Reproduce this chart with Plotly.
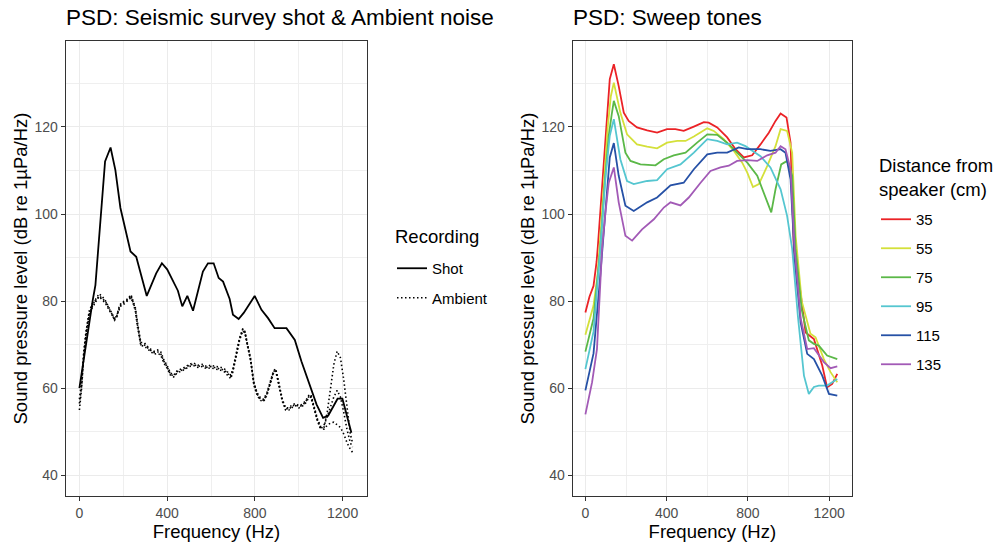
import plotly.graph_objects as go

# ---- Left panel: seismic shot vs ambient noise ----
shot_freq = [0, 20, 40, 61, 73, 99, 117, 142, 164, 187, 210, 233, 259, 307, 350, 376, 400, 426,
             449, 469, 492, 518, 556, 563, 586, 612, 635, 655, 685, 700, 726, 749, 799, 830,
             860, 890, 944, 982, 1012, 1058, 1081, 1111, 1134, 1177, 1199, 1240]
shot_db = [60, 67, 74, 80.3, 83.7, 99.4, 112.1, 115.3, 110.1, 101.4, 96, 91.4, 90.2, 81.2, 86.4,
           88.7, 87.3, 84.5, 82.4, 78.8, 81.2, 77.8, 84.9, 86.8, 88.7, 88.7, 85.3, 84.5, 80.5,
           76.9, 75.9, 77.3, 81.2, 78, 76.1, 73.8, 73.8, 71.1, 66.2, 59.7, 56.3, 53.2, 53.7,
           57.6, 57.6, 49.8]

amb_freq = [0, 10, 20, 30, 45, 60, 75, 90, 105, 120, 135, 150, 160, 170, 180, 190, 205, 220,
            235, 245, 255, 265, 280, 295, 310, 325, 340, 355, 370, 385, 400, 415, 430, 445,
            460, 480, 500, 520, 540, 560, 580, 600, 620, 640, 660, 680, 690, 700, 715, 730,
            745, 755, 765, 780, 795, 810, 825, 840, 855, 870, 885, 895, 910, 925, 940, 955,
            970, 985, 1000, 1015, 1030, 1045, 1055, 1070, 1085, 1100, 1115, 1130, 1145, 1160,
            1175, 1190, 1205, 1220, 1235, 1245]
amb_1 = [55, 60, 67.5, 72, 77, 79, 80.5, 81.7, 81, 80, 78.5, 77, 76, 76.5, 78.5, 79.6, 80, 80.5,
         81.5, 80, 78.5, 75, 70.5, 70.5, 69.6, 69, 68.5, 68.8, 68.5, 66.5, 65.2, 63.5, 63, 64,
         64.3, 64.8, 65.5, 65.8, 65.3, 65.5, 65, 65.3, 65, 64.9, 64.5, 63.5, 63, 64.5, 68, 71.5,
         73.7, 73, 70.5, 67, 61.5, 59, 57.8, 57.5, 59, 61.5, 64, 64.5, 61, 57.5, 55.5, 55.5,
         56.2, 56.5, 56, 56.3, 57, 58.3, 58.6, 55.5, 53, 51.2, 51, 54.5, 59.5, 65.5,
         68.5, 67, 62, 55.5, 49.5, 47.5]
amb_2 = [57.5, 61.5, 68.5, 73, 77.8, 79.5, 80.2, 81, 80.3, 79.4, 78, 76.6, 75.8, 76.8, 78, 79,
         79.4, 80, 80.8, 79.5, 77.8, 74, 69.8, 69.7, 69, 68.5, 67.8, 68, 67.7, 65.8, 64.6, 63,
         62.6, 63.5, 63.8, 64.3, 65, 65.2, 64.8, 65, 64.5, 64.7, 64.4, 64.2, 63.8, 62.8, 62.2,
         63.8, 67.4, 71, 73.2, 72.5, 70, 66.4, 60.8, 58.4, 57.2, 57, 58.4, 61, 63.5, 64, 60.4,
         57, 55, 55, 55.6, 56, 55.5, 55.8, 56.5, 57.7, 58, 55, 52.5, 50.6, 51.5, 53.5, 56, 58,
         59.5, 58, 54.5, 50.5, 47.5, 46.5]
amb_3 = [56.5, 60.5, 67.8, 72.5, 77.3, 78.6, 79.8, 81.2, 80.6, 79.8, 78.3, 76.9, 75.6, 76.2, 78.2,
         79.3, 79.8, 80.3, 81.2, 79.8, 78.2, 74.5, 70, 70, 69.3, 68.7, 68.2, 68.4, 68, 66.2, 64.9,
         63.2, 62.8, 63.8, 64, 64.5, 65.3, 65.5, 65, 65.2, 64.8, 65, 64.7, 64.5, 64.2, 63.2, 62.6,
         64.2, 67.7, 71.2, 73.5, 72.8, 70.2, 66.7, 61.2, 58.7, 57.5, 57.2, 58.7, 61.2, 63.8, 64.3,
         60.7, 57.2, 55.3, 55.2, 55.9, 56.2, 55.8, 56, 56.8, 58, 58.3, 55.2, 52.7, 50.8, 50.6,
         51.5, 52, 52.2, 51.5, 51, 49.5, 47.5, 46, 45.3]

# ---- Right panel: sweep tones by distance from speaker ----
distances = ["35", "55", "75", "95", "115", "135"]
colors = ["#EB2226", "#D4E03A", "#5BB848", "#55C6D0", "#2651A6", "#A25AB6"]

f35 = [0, 20, 40, 55, 62, 80, 100, 120, 140, 164, 189, 213, 254, 304, 353, 402, 443, 484, 534,
       583, 607, 649, 698, 739, 780, 821, 862, 903, 936, 961, 990, 1010, 1026, 1059, 1084,
       1125, 1166, 1190, 1215, 1240]
db35 = [77.4, 81, 83.5, 89, 93, 105, 119, 131, 134.4, 129.4, 123.3, 121.4, 119.9, 119.2, 118.7,
        119.5, 119.5, 119.1, 120.1, 121.1, 121, 119.9, 117.6, 114.9, 113, 113.5, 116, 118.7,
        121.4, 123.1, 122.2, 116.4, 92, 82, 72.8, 71.3, 65.2, 60.2, 61, 63.3]
f55 = [0, 40, 60, 70, 90, 110, 125, 140, 172, 205, 254, 304, 353, 402, 452, 493, 534, 600, 632,
       681, 731, 772, 797, 825, 854, 895, 936, 961, 993, 1018, 1035, 1065, 1108, 1133, 1174,
       1207, 1240]
db55 = [72.3, 79, 86, 92, 106, 120, 127, 130.2, 123.3, 118.3, 116, 115.5, 115.1, 116.4, 116.8,
        116.8, 117.8, 119.7, 119.1, 117.2, 114.5, 111.8, 109.5, 106.2, 106.9, 111, 115.6, 119.5,
        119.1, 114.1, 95, 80, 72.5, 71.7, 66.7, 63.7, 61.4]
f75 = [0, 40, 65, 75, 95, 115, 130, 140, 164, 197, 222, 271, 345, 386, 435, 493, 550, 600, 649,
       698, 747, 797, 846, 878, 915, 936, 964, 993, 1018, 1035, 1065, 1100, 1125, 1149, 1190,
       1240]
db75 = [68.4, 76, 88, 93, 107, 118, 123, 126, 122.5, 114.1, 112.2, 111.4, 111.2, 112.6, 113.5,
        114.1, 116.4, 118.3, 118.2, 116.4, 114.1, 111.8, 108.8, 104.9, 100.4, 105.7, 111.4,
        112.2, 108.8, 92, 78, 71, 70.2, 69.8, 67.5, 66.7]
f95 = [0, 40, 70, 80, 100, 120, 140, 172, 205, 238, 304, 353, 402, 468, 534, 600, 649, 698, 747,
       788, 862, 911, 961, 993, 1018, 1046, 1076, 1100, 1125, 1149, 1190, 1240]
db95 = [64.4, 73, 90, 96, 109, 118, 121.8, 112.6, 107.6, 106.9, 107.6, 107.8, 110.3, 111.4,
        114.1, 117.2, 116.8, 116, 116.4, 115.6, 113.3, 110.7, 105.7, 99.6, 92, 76.6, 62.9,
        58.7, 60.3, 60.6, 60.6, 62.1]
f115 = [0, 40, 70, 85, 100, 120, 140, 164, 197, 238, 304, 353, 419, 484, 534, 600, 649, 698, 755,
        797, 862, 911, 961, 985, 1010, 1030, 1060, 1092, 1125, 1166, 1199, 1240]
db115 = [59.5, 68, 84, 93, 103, 113, 116.3, 108.8, 101.9, 100.7, 102.7, 103.8, 106.6, 107.2,
         110.3, 113.7, 114.1, 114.1, 115.3, 114.9, 114.9, 114.5, 114.9, 114.1, 108, 90, 75,
         67.9, 66.7, 62.9, 58.7, 58.3]
f135 = [0, 33, 57, 82, 100, 115, 140, 164, 197, 230, 279, 337, 386, 419, 468, 509, 567, 616, 665,
        706, 747, 797, 846, 895, 936, 961, 985, 1010, 1030, 1060, 1092, 1125, 1174, 1207, 1240]
db135 = [54, 61.4, 69, 92, 101, 107.2, 110.7, 102.7, 95, 93.9, 96.5, 98.8, 101.5, 102.7, 102,
         103.8, 107.2, 109.9, 110.7, 111.1, 112.2, 112.4, 112.2, 113.5, 114.1, 115.6, 114.9,
         110.3, 92, 76, 69, 69.2, 66, 64.6, 65]

sweep_freqs = [f35, f55, f75, f95, f115, f135]
sweep_dbs = [db35, db55, db75, db95, db115, db135]

FONT = "Liberation Sans, Arial, sans-serif"
W, H = 1001, 542

fig = go.Figure()

fig.add_trace(go.Scatter(x=shot_freq, y=shot_db, mode="lines", name="Shot",
                         line=dict(color="black", width=1.8),
                         legend="legend", legendgroup="shot", xaxis="x", yaxis="y"))
for i, amb in enumerate([amb_1, amb_2, amb_3]):
    fig.add_trace(go.Scatter(x=amb_freq, y=amb, mode="lines", name="Ambient",
                             line=dict(color="black", width=1.6, dash="1.5px,2.5px"),
                             legend="legend", legendgroup="amb", showlegend=(i == 0),
                             xaxis="x", yaxis="y"))

for d, c, fx, fy in zip(distances, colors, sweep_freqs, sweep_dbs):
    fig.add_trace(go.Scatter(x=fx, y=fy, mode="lines", name=d,
                             line=dict(color=c, width=1.8),
                             legend="legend2", legendgroup=d, xaxis="x2", yaxis="y2"))

grid = dict(showgrid=True, gridcolor="#EBEBEB", gridwidth=1.2, zeroline=False,
            showline=True, mirror=True, linecolor="#333333", linewidth=1,
            ticks="outside", ticklen=4, tickcolor="#333333", tickwidth=1,
            tickfont=dict(size=14, color="#4D4D4D", family=FONT), automargin=False)
xcommon = dict(grid, range=[-62.5, 1312.5], tick0=0, dtick=400,
               minor=dict(dtick=200, showgrid=True, gridcolor="#EFEFEF", gridwidth=0.7),
               title=dict(text="Frequency (Hz)", font=dict(size=18.5, color="black", family=FONT),
                          standoff=5))
ycommon = dict(grid, range=[35.25, 139.75], tick0=40, dtick=20,
               minor=dict(dtick=10, showgrid=True, gridcolor="#EFEFEF", gridwidth=0.7),
               title=dict(text="Sound pressure level (dB re 1µPa/Hz)",
                          font=dict(size=18.5, color="black", family=FONT), standoff=2))

ybot, ytop = 1 - 496 / H, 1 - 41 / H


def ann(text, x, y, size):
    return dict(text=text, x=x / W, y=1 - y / H, xref="paper", yref="paper",
                xanchor="left", yanchor="middle", align="left", showarrow=False,
                font=dict(size=size, color="black"))


fig.update_layout(
    width=W, height=H, template="none",
    paper_bgcolor="white", plot_bgcolor="white",
    margin=dict(l=0, r=0, t=0, b=0),
    font=dict(family=FONT, color="black"),
    xaxis=dict(xcommon, domain=[65.7 / W, 367.3 / W], anchor="y"),
    yaxis=dict(ycommon, domain=[ybot, ytop], anchor="x"),
    xaxis2=dict(xcommon, domain=[572.7 / W, 852 / W], anchor="y2"),
    yaxis2=dict(ycommon, domain=[ybot, ytop], anchor="x2"),
    legend=dict(x=392 / W, y=1 - 252 / H, xanchor="left", yanchor="top",
                font=dict(size=15), tracegroupgap=7, bgcolor="rgba(0,0,0,0)"),
    legend2=dict(x=876 / W, y=1 - 203 / H, xanchor="left", yanchor="top",
                 font=dict(size=15), tracegroupgap=6.5, bgcolor="rgba(0,0,0,0)"),
    annotations=[
        ann("PSD: Seismic survey shot & Ambient noise", 63.5, 18, 22.5),
        ann("PSD: Sweep tones", 570.5, 18, 22.5),
        ann("Recording", 393, 237, 18.5),
        ann("Distance from<br>speaker (cm)", 877, 177.5, 18.5),
    ],
)

# drop the browser's default 8px body margin so the figure sits at the page origin
fig.write_html("out.html", config={"displayModeBar": False},
               post_script="document.body.style.margin='0px';")
